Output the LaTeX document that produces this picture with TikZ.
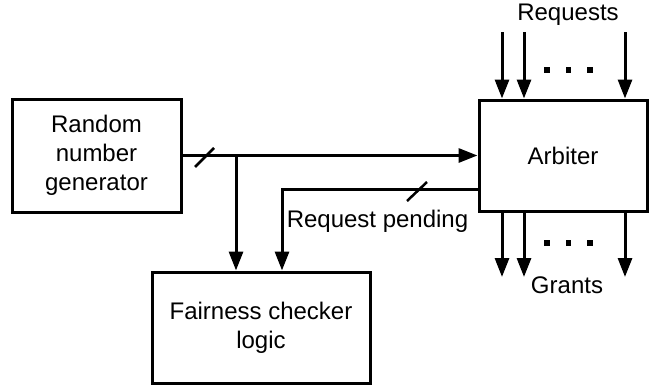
\documentclass[tikz,border=0pt]{standalone}
\usepackage{fontspec}
\setmainfont{Liberation Sans}
\usetikzlibrary{arrows.meta}
\begin{document}
\begin{tikzpicture}[x=1pt,y=-1pt,
  blk/.style={draw,line width=3pt,align=center,inner sep=0pt,
    font=\fontsize{24}{29}\selectfont},
  wire/.style={line width=3pt},
  arr/.style={wire,-{Triangle[width=14pt,length=19pt]}},
  lbl/.style={font=\fontsize{24}{29}\selectfont,inner sep=0pt},
  dot/.style={fill=black}]
\useasboundingbox (0,0) rectangle (656,388);

% blocks
\node[blk,minimum width=169pt,minimum height=113pt] (rng) at (96.5,155.5) {Random\\number\\generator};
\node[blk,minimum width=168pt,minimum height=111pt] (arb) at (563,155.5) {Arbiter};
\node[blk,minimum width=218pt,minimum height=111pt] (fair) at (261,327.5) {Fairness checker\\logic};

% random number bus
\draw[arr] (rng.east) -- (arb.west);
\coordinate (j1) at (236,155.5);
\draw[arr] (j1) -- (j1 |- fair.north);
\draw[wire,line width=2.5pt] (195,167) -- (214,148);

% request pending bus
\coordinate (rp) at (479,189);
\draw[arr] (rp) -| ([xshift=21pt]fair.north);
\draw[wire,line width=2.5pt] (407,201) -- (427,182);
\node[lbl] (rplbl) at (377.5,221) {Request pending};

% request inputs
\node[lbl] (req) at (568,15) {Requests};
\foreach \x/\n in {502/1,524/2,625/3}{
  \coordinate (r\n) at (\x,32);
  \draw[arr] (r\n) -- (r\n |- arb.north);
}
\foreach \x in {547,568.5,590}{
  \fill[dot] (\x-2.7,67.3) rectangle (\x+2.7,72.7);
}

% grant outputs
\foreach \x/\n in {502/1,524/2,625/3}{
  \coordinate (g\n) at (\x,277);
  \draw[arr] (g\n |- arb.south) -- (g\n);
}
\foreach \x in {547,568.5,590}{
  \fill[dot] (\x-2.7,240.3) rectangle (\x+2.7,245.7);
}
\node[lbl] (gr) at (567,285) {Grants};
\end{tikzpicture}
\end{document}
